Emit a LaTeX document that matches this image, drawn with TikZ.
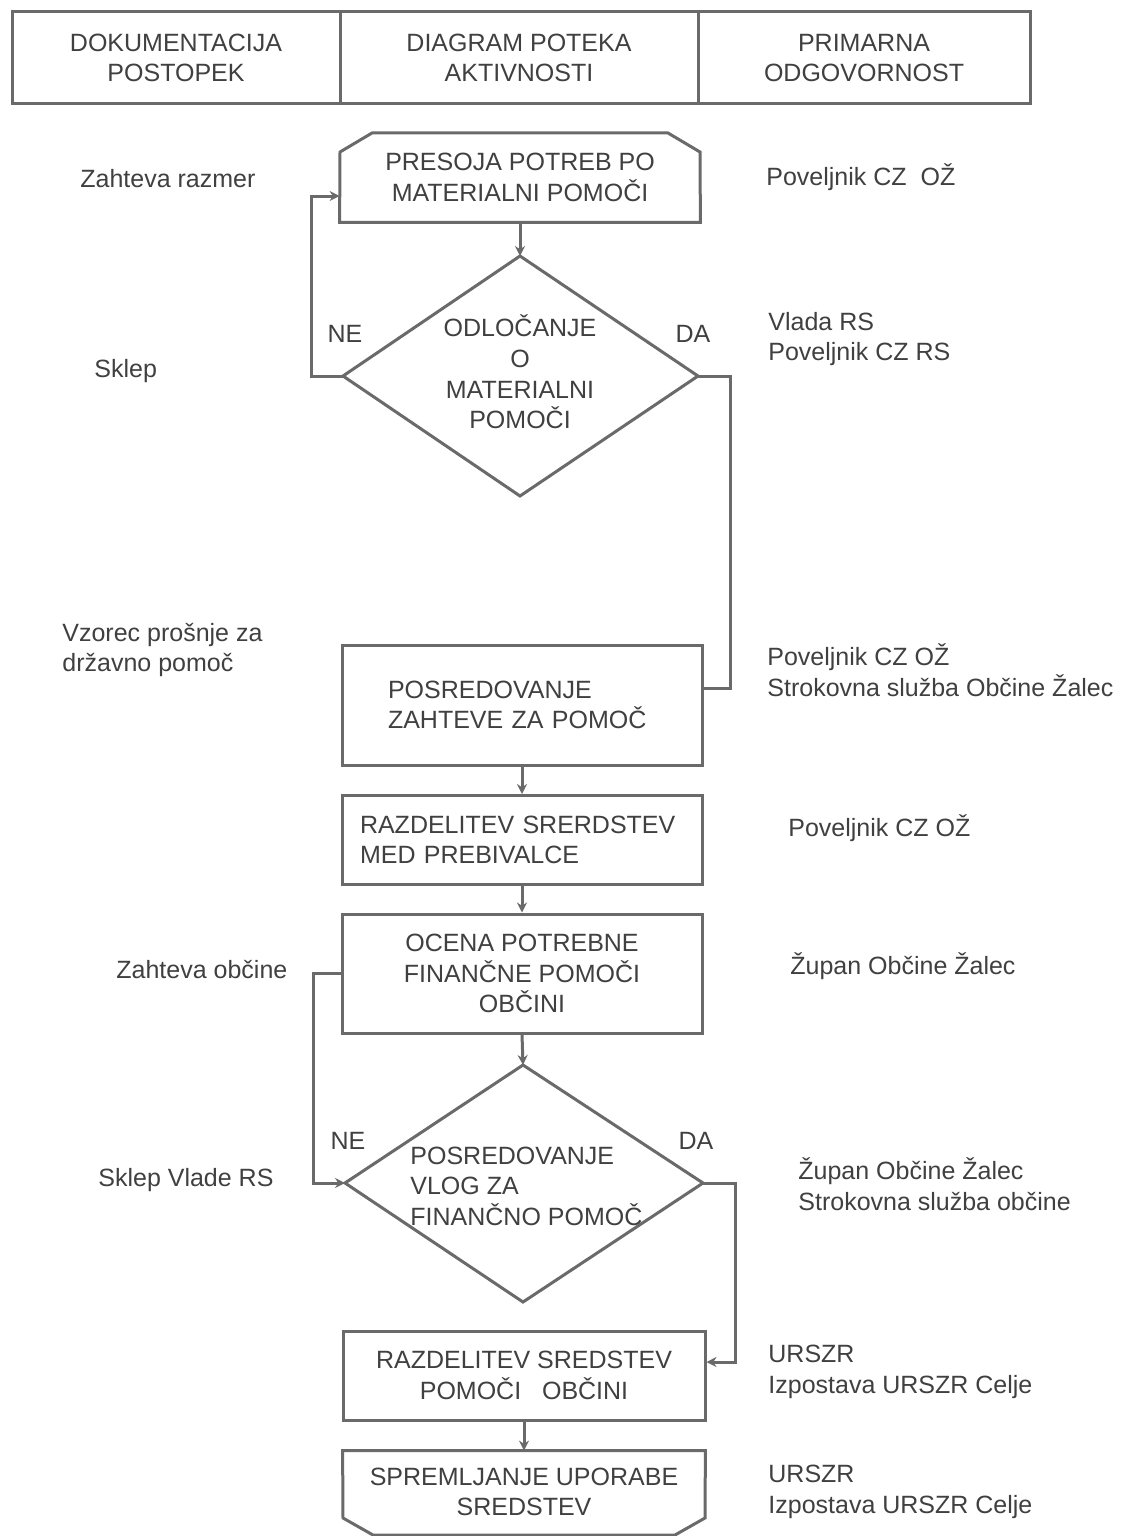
\documentclass[tikz,border=0pt]{standalone}
\usepackage{fontspec}
\setmainfont{Liberation Sans}
\usetikzlibrary{arrows.meta}
\definecolor{ln}{HTML}{6A6A6A}
\definecolor{tx}{HTML}{404040}
\hyphenpenalty=10000
\begin{document}
\begin{tikzpicture}[x=0.5pt,y=-0.5pt,
  line/.style={draw=ln, line width=1.5pt},
  arr/.style={line, -{Stealth[length=5pt,width=5pt]}},
  txt/.style={text=tx, font=\fontsize{12.5}{15.3}\selectfont, inner sep=0pt},
  hbox/.style={txt, draw=ln, line width=1.5pt, align=center, minimum height=46pt},
  pbox/.style={txt, draw=ln, line width=1.5pt, minimum width=180pt},
  ghost/.style={txt, minimum width=180pt, align=center},
  lbl/.style={txt, anchor=west, align=left}
]
\useasboundingbox (0,0) rectangle (1129,1536);
\fill[white] (0,0) rectangle (1129,1536);

% header
\node[hbox, minimum width=164pt] (h1) at (176,58) {DOKUMENTACIJA\\POSTOPEK};
\node[hbox, minimum width=179pt] (h2) at (519,58) {DIAGRAM POTEKA\\AKTIVNOSTI};
\node[hbox, minimum width=166pt] (h3) at (864,58) {PRIMARNA\\ODGOVORNOST};

% box 1 (cut top corners)
\node[ghost, minimum height=44.5pt] (b1) at (520,177.5) {PRESOJA POTREB PO\\MATERIALNI POMOČI};
\draw[line] (b1.south west) -- (340,152) -- (372,133) -- (668,133) -- (700,152) -- (b1.south east) -- cycle;

% diamond 1
\coordinate (d1t) at (520,256);
\coordinate (d1b) at (520,496);
\coordinate (d1l) at (343,376);
\coordinate (d1r) at (698,376);
\draw[line] (d1t) -- (d1r) -- (d1b) -- (d1l) -- cycle;
\node[txt, align=center] (d1) at (520,372) {ODLOČANJE\\O\\MATERIALNI\\POMOČI};
\node[txt] (ne1) at (345,334) {NE};
\node[txt] (da1) at (693,334) {DA};

% box 2
\node[pbox, minimum height=60pt, inner xsep=23pt, text width=134pt, align=left] (b2) at (522,705) {POSREDOVANJE\\ZAHTEVE ZA POMOČ};
% box 3
\node[pbox, minimum height=44.5pt, inner xsep=9pt, text width=162pt, align=left] (b3) at (522,840) {RAZDELITEV SRERDSTEV\\MED PREBIVALCE};
% box 4
\node[pbox, minimum height=59.5pt, align=center] (b4) at (522,973.5) {OCENA POTREBNE\\FINANČNE POMOČI\\OBČINI};

% diamond 2
\coordinate (d2t) at (523,1065);
\coordinate (d2b) at (523,1302);
\coordinate (d2l) at (345,1183);
\coordinate (d2r) at (703,1183);
\draw[line] (d2t) -- (d2r) -- (d2b) -- (d2l) -- cycle;
\node[txt, anchor=west, align=left] (d2) at (410,1186) {POSREDOVANJE\\VLOG ZA\\FINANČNO POMOČ};
\node[txt] (ne2) at (348,1141) {NE};
\node[txt] (da2) at (696,1141) {DA};

% box 5
\node[pbox, minimum width=181pt, minimum height=44.5pt, align=center] (b5) at (524,1375.5) {RAZDELITEV SREDSTEV\\POMOČI\ \ \ OBČINI};
% box 6 (cut bottom corners)
\node[ghost, minimum width=181pt, minimum height=41pt] (b6) at (524,1492) {SPREMLJANJE UPORABE\\SREDSTEV};
\draw[line] (b6.north west) -- (b6.north east) -- (705,1518) -- (675,1535) -- (373,1535) -- (343,1518) -- cycle;

% connectors
\draw[arr] (b1.south) -- (d1t);
\draw[arr] (d1l) -- (311,376) -- (311,196) -- (b1.west |- 0,196);
\draw[line] (d1r) -- (730,376) -- (730,688) -- (b2.east |- 0,688);
\draw[arr] (b2.south) -- (b3.north);
\draw[arr] (b3.south) -- (b4.north);
\draw[arr] (b4.south) -- (d2t);
\draw[arr] (b4.west) -| (313,1183) -- (d2l);
\draw[arr] (d2r) -- (735,1183) -- (735,1362) -- (b5.east |- 0,1362);
\draw[arr] (b5.south) -- (b6.north);

% left column
\node[lbl] (l1) at (80,179) {Zahteva razmer};
\node[lbl] (l2) at (94,371) {Sklep};
\node[lbl] (l3) at (62,650) {Vzorec prošnje za\\državno pomoč};
\node[lbl] (l4) at (116,970) {Zahteva občine};
\node[lbl] (l5) at (98,1180) {Sklep Vlade RS};

% right column
\node[lbl] (r1) at (766,177) {Poveljnik CZ\ \ OŽ};
\node[lbl] (r2) at (768,339) {Vlada RS\\Poveljnik CZ RS};
\node[lbl] (r3) at (767,670) {Poveljnik CZ OŽ\\Strokovna služba Občine Žalec};
\node[lbl] (r4) at (788,828) {Poveljnik CZ OŽ};
\node[lbl] (r5) at (790,966) {Župan Občine Žalec};
\node[lbl] (r6) at (798,1184) {Župan Občine Žalec\\Strokovna služba občine};
\node[lbl] (r7) at (768,1372) {URSZR\\Izpostava URSZR Celje};
\node[lbl] (r8) at (768,1492) {URSZR\\Izpostava URSZR Celje};
\end{tikzpicture}
\end{document}
